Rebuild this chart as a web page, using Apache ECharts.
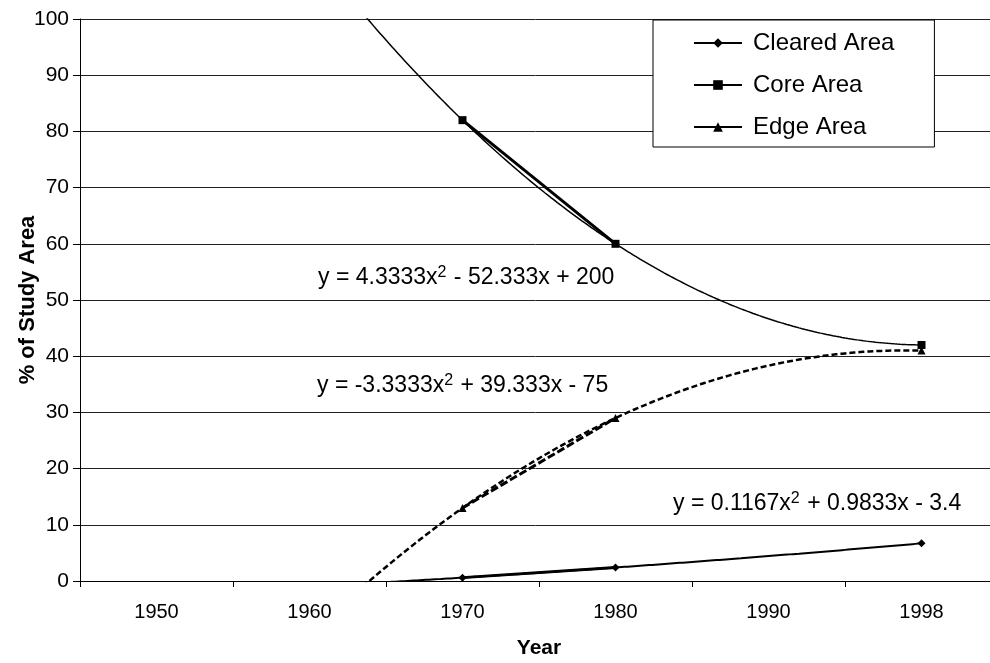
<!DOCTYPE html>
<html>
<head>
<meta charset="utf-8">
<script src="https://cdn.jsdelivr.net/npm/echarts@6/dist/echarts.min.js"></script>
<style>html,body{margin:0;padding:0;background:#fff}#c{width:990px;height:663px}</style>
</head>
<body>
<div id="c"></div>
<script>
// Categories and values
const categories = ['1950', '1960', '1970', '1980', '1990', '1998'];
const clearedArea = [null, null, 0.6, 2.4, null, 6.7];
const coreArea = [null, null, 82, 60, null, 42];
const edgeArea = [null, null, 13, 29, null, 41];
// Trendline coefficients as printed on the chart (x = category number 1..6)
const coreFit = [4.3333, -52.333, 200];
const edgeFit = [-3.3333, 39.333, -75];
const clearedFit = [0.1167, 0.9833, -3.4];
const yTicks = [0, 10, 20, 30, 40, 50, 60, 70, 80, 90, 100];

function curve(c) {
  const pts = [];
  for (let i = 0; i <= 250; i++) {
    const x = 1 + i * 0.02;
    pts.push([x, c[0] * x * x + c[1] * x + c[2]]);
  }
  return pts;
}

const font = '"Liberation Sans", Arial, sans-serif';
const chart = echarts.init(document.getElementById('c'), null, {renderer: 'canvas'});
const supStyle = {
  a: {fontSize: 23, fontFamily: font, color: '#000', lineHeight: 26},
  s: {fontSize: 16, fontFamily: font, color: '#000', lineHeight: 16, verticalAlign: 'top', padding: [0, 1, 0, 0]}
};
chart.setOption({
  animation: false,
  backgroundColor: '#fff',
  grid: {left: 80, top: 19, width: 918, height: 562, containLabel: false, outerBoundsMode: 'none'},
  legend: {
    orient: 'vertical',
    left: 653, top: 20,
    padding: [11, 40, 8, 40],
    itemGap: 18,
    itemWidth: 48, itemHeight: 12,
    backgroundColor: '#fff',
    borderColor: '#000', borderWidth: 1,
    textStyle: {fontSize: 24, fontFamily: font, color: '#000', lineHeight: 24, padding: [0, 0, 0, 6]},
    data: ['Cleared Area', 'Core Area', {name: 'Edge Area', lineStyle: {type: 'solid'}}]
  },
  xAxis: [{
    type: 'category',
    data: categories,
    boundaryGap: true,
    name: 'Year', nameLocation: 'middle', nameGap: 57, nameMoveOverlap: false,
    nameTextStyle: {fontSize: 21, fontWeight: 'bold', fontFamily: font, color: '#000'},
    axisLine: {lineStyle: {color: '#000', width: 1}},
    axisTick: {show: true, length: 6, alignWithLabel: false, lineStyle: {color: '#000'}},
    axisLabel: {fontSize: 20, fontFamily: font, color: '#000', margin: 21},
    splitLine: {show: false}
  }, {
    type: 'value', min: 0.5, max: 6.5, show: false
  }],
  yAxis: {
    type: 'value', min: yTicks[0], max: yTicks[yTicks.length - 1], interval: 10,
    name: '% of Study Area', nameLocation: 'middle', nameGap: 41, nameRotate: 90, nameMoveOverlap: false,
    nameTextStyle: {fontSize: 22, fontWeight: 'bold', fontFamily: font, color: '#000'},
    axisLine: {show: true, lineStyle: {color: '#000', width: 1}},
    axisTick: {show: true, length: 7, lineStyle: {color: '#000'}},
    axisLabel: {fontSize: 21, fontFamily: font, color: '#000', margin: 11},
    splitLine: {show: true, lineStyle: {color: '#222', width: 1}}
  },
  series: [
    {
      name: 'Cleared Area', type: 'line', data: clearedArea, connectNulls: false,
      symbol: 'diamond', symbolSize: 8, showSymbol: true, showAllSymbol: true,
      lineStyle: {color: '#000', width: 3}, itemStyle: {color: '#000'}, z: 5
    },
    {
      name: 'Core Area', type: 'line', data: coreArea, connectNulls: false,
      symbol: 'rect', symbolSize: 8, showSymbol: true, showAllSymbol: true,
      lineStyle: {color: '#000', width: 3}, itemStyle: {color: '#000'}, z: 5
    },
    {
      name: 'Edge Area', type: 'line', data: edgeArea, connectNulls: false,
      symbol: 'triangle', symbolSize: 8, showSymbol: true, showAllSymbol: true,
      lineStyle: {color: '#000', width: 3, type: [8, 3]}, itemStyle: {color: '#000'}, z: 5
    },
    {
      name: 'core trend', type: 'line', xAxisIndex: 1, data: curve(coreFit), showSymbol: false,
      symbol: 'none', clip: true, lineStyle: {color: '#000', width: 1.5}, silent: true, z: 4
    },
    {
      name: 'edge trend', type: 'line', xAxisIndex: 1, data: curve(edgeFit), showSymbol: false,
      symbol: 'none', clip: true, lineStyle: {color: '#000', width: 2.5, type: [6, 3]}, silent: true, z: 4
    },
    {
      name: 'cleared trend', type: 'line', xAxisIndex: 1, data: curve(clearedFit), showSymbol: false,
      symbol: 'none', clip: true, lineStyle: {color: '#000', width: 2}, silent: true, z: 4
    }
  ],
  graphic: [
    {type: 'text', left: 318, top: 265, style: {text: '{a|y = 4.3333x}{s|2}{a| - 52.333x + 200}', rich: supStyle}},
    {type: 'text', left: 317, top: 373, style: {text: '{a|y = -3.3333x}{s|2}{a| + 39.333x - 75}', rich: supStyle}},
    {type: 'text', left: 673, top: 491, style: {text: '{a|y = 0.1167x}{s|2}{a| + 0.9833x - 3.4}', rich: supStyle}}
  ]
});
</script>
</body>
</html>
